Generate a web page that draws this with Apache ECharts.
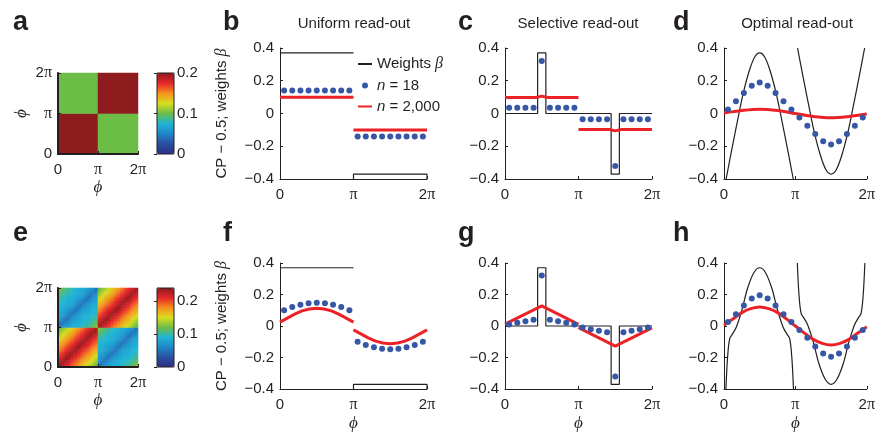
<!DOCTYPE html>
<html>
<head>
<meta charset="utf-8">
<script src="https://cdn.jsdelivr.net/npm/echarts@6/dist/echarts.min.js"></script>
<style>
  html, body { margin: 0; background: #fff; }
  #chart { width: 878px; height: 433px; }
</style>
</head>
<body>
<div id="chart"></div>
<script>
const SANS = '"Liberation Sans", Arial, Helvetica, sans-serif'
const SERIF = '"Liberation Serif", "Times New Roman", serif'
const INK = '#231f20'
const BLUE = '#3656a6'
const RED = '#ec2227'

// tick labels
const piTickLabels = ['0', 'π', '2π']
const yTickLabels = ['−0.4', '−0.2', '0', '0.2', '0.4']
const cbTickLabels = ['0', '0.1', '0.2']

// jet-like palette of the colour bars
const jetColors = ['#2b2f83', '#2a4fa2', '#1f86c8', '#1fb5d6', '#6bbd45', '#d8de1f', '#f6911e', '#e6262b', '#8e1b1e']

// heat map a: 2 x 2 blocks, rows from phi = 0 upwards
const heatA = [
  [0.2, 0.1],
  [0.1, 0.2]
]
// heat map e: value against distance from the diagonal (36 bins, 18 per half)
const sameHalfProfile = [0.235, 0.228, 0.221, 0.214, 0.207, 0.2, 0.193, 0.186, 0.179, 0.172, 0.166, 0.159, 0.152, 0.145, 0.138, 0.131, 0.124, 0.117]
const otherHalfProfile = [0.05, 0.058, 0.065, 0.071, 0.076, 0.08, 0.083, 0.086, 0.088, 0.09, 0.093, 0.096, 0.1, 0.104, 0.109, 0.115, 0.122, 0.13]

// phi positions of the n = 18 neurons (units of pi)
const dotPhi = [0.056, 0.167, 0.278, 0.389, 0.5, 0.611, 0.722, 0.833, 0.944, 1.056, 1.167, 1.278, 1.389, 1.5, 1.611, 1.722, 1.833, 1.944]

const dotsB = [0.14, 0.14, 0.14, 0.14, 0.14, 0.14, 0.14, 0.14, 0.14, -0.14, -0.14, -0.14, -0.14, -0.14, -0.14, -0.14, -0.14, -0.14]
const dotsC = [0.035, 0.035, 0.035, 0.035, 0.32, 0.035, 0.035, 0.035, 0.035, -0.035, -0.035, -0.035, -0.035, -0.32, -0.035, -0.035, -0.035, -0.035]
const dotsD = [0.025, 0.075, 0.125, 0.17, 0.19, 0.17, 0.125, 0.075, 0.025, -0.025, -0.075, -0.125, -0.17, -0.19, -0.17, -0.125, -0.075, -0.025]
const dotsF = [0.1, 0.12, 0.135, 0.145, 0.148, 0.145, 0.135, 0.12, 0.1, -0.1, -0.12, -0.135, -0.145, -0.148, -0.145, -0.135, -0.12, -0.1]
const dotsG = [0.01, 0.02, 0.03, 0.04, 0.32, 0.04, 0.03, 0.02, 0.01, -0.01, -0.02, -0.03, -0.04, -0.32, -0.04, -0.03, -0.02, -0.01]
const dotsH = [0.025, 0.075, 0.13, 0.175, 0.195, 0.175, 0.13, 0.075, 0.025, -0.025, -0.075, -0.13, -0.175, -0.195, -0.175, -0.13, -0.075, -0.025]

// weights (black), [phi / pi, value]
const weightsUniform = [
  [[0, 0.37], [1, 0.37]],
  [[1, -0.4], [1, -0.37], [2, -0.37], [2, -0.4]]
]
const weightsSelective = [
  [[0, 0], [0.444, 0], [0.444, 0.37], [0.556, 0.37], [0.556, 0], [1.444, 0], [1.444, -0.37], [1.556, -0.37], [1.556, 0], [2, 0]]
]
const weightsOptD = [
  [[0.03, -0.4], [0.1, -0.24], [0.2, -0.02], [0.27, 0.125], [0.35, 0.255], [0.43, 0.345], [0.5, 0.37], [0.57, 0.345], [0.65, 0.255], [0.73, 0.125], [0.8, -0.02], [0.9, -0.24], [0.97, -0.4]],
  [[1.03, 0.4], [1.1, 0.24], [1.2, 0.02], [1.27, -0.125], [1.35, -0.255], [1.43, -0.345], [1.5, -0.37], [1.57, -0.345], [1.65, -0.255], [1.73, -0.125], [1.8, 0.02], [1.9, 0.24], [1.97, 0.4]]
]
const weightsOptH = [
  [[0.027, -0.4], [0.05, -0.2], [0.08, -0.08], [0.12, -0.05], [0.17, -0.01], [0.25, 0.1], [0.33, 0.24], [0.42, 0.34], [0.5, 0.37], [0.58, 0.34], [0.67, 0.24], [0.75, 0.1], [0.83, -0.01], [0.88, -0.05], [0.92, -0.08], [0.95, -0.2], [0.973, -0.4]],
  [[1.027, 0.4], [1.05, 0.2], [1.08, 0.08], [1.12, 0.05], [1.17, 0.01], [1.25, -0.1], [1.33, -0.24], [1.42, -0.34], [1.5, -0.37], [1.58, -0.34], [1.67, -0.24], [1.75, -0.1], [1.83, 0.01], [1.88, 0.05], [1.92, 0.08], [1.95, 0.2], [1.973, 0.4]]
]

// n = 2,000 (red)
const redB = [
  [[0, 0.1], [1, 0.1]],
  [[1, -0.1], [2, -0.1]]
]
const redC = [
  [[0, 0.098], [0.42, 0.098], [0.5, 0.106], [0.58, 0.098], [1, 0.098]],
  [[1, -0.098], [1.42, -0.098], [1.5, -0.106], [1.58, -0.098], [2, -0.098]]
]
const redD = [
  [[0, 0.003], [0.25, 0.018], [0.5, 0.026], [0.75, 0.018], [1, 0], [1.25, -0.018], [1.5, -0.026], [1.75, -0.018], [2, -0.003]]
]
const redF = [
  [[0, 0.025], [0.1, 0.05], [0.2, 0.075], [0.3, 0.096], [0.4, 0.108], [0.5, 0.112], [0.6, 0.108], [0.7, 0.096], [0.8, 0.075], [0.9, 0.05], [1, 0.025]],
  [[1, -0.025], [1.1, -0.05], [1.2, -0.075], [1.3, -0.096], [1.4, -0.108], [1.5, -0.112], [1.6, -0.108], [1.7, -0.096], [1.8, -0.075], [1.9, -0.05], [2, -0.025]]
]
const redG = [
  [[0, 0.012], [0.5, 0.128], [1, 0.01]],
  [[1, -0.01], [1.5, -0.128], [2, -0.012]]
]
const redH = [
  [[0, 0.005], [0.125, 0.045], [0.25, 0.085], [0.375, 0.11], [0.5, 0.12], [0.625, 0.11], [0.75, 0.085], [0.875, 0.045], [1, 0], [1.125, -0.045], [1.25, -0.085], [1.375, -0.11], [1.5, -0.12], [1.625, -0.11], [1.75, -0.085], [1.875, -0.045], [2, -0.005]]
]

const chart = echarts.init(document.getElementById('chart'), null, { renderer: 'canvas' })

const grid = []
const xAxis = []
const yAxis = []
const series = []
const visualMap = []

const labelFont = { fontSize: 15, fontFamily: SANS, color: INK }
const piRich = { p: { fontFamily: SERIF, fontSize: 16, color: INK } }
const phiName = { fontFamily: SERIF, fontStyle: 'italic', fontSize: 17, color: INK }

function piLabel(v) {
  return piTickLabels[Math.round(v)].replace('π', '{p|π}')
}

function phiAxis(g, opts) {
  return Object.assign({
    type: 'value', gridIndex: g, min: 0, max: 2, interval: 1, z: 5,
    axisLine: { show: true, onZero: false, lineStyle: { color: INK, width: 1 } },
    axisTick: { show: true, inside: true, length: 3, lineStyle: { color: INK } },
    splitLine: { show: false },
    axisLabel: Object.assign({ margin: 8, formatter: piLabel, rich: piRich }, labelFont),
    nameLocation: 'middle',
    nameTextStyle: phiName
  }, opts)
}

// heat map with its colour bar
function addHeat(rect, cbRect, cells, n, vmax) {
  const g = grid.length
  grid.push(Object.assign({ containLabel: false }, rect))
  const cats = Array.from({ length: n }, (_, i) => i)
  const xc = xAxis.length
  xAxis.push({ type: 'category', gridIndex: g, data: cats, show: false, position: 'top' })
  xAxis.push(phiAxis(g, { position: 'bottom', name: 'ϕ', nameGap: 24, axisLine: { show: true, onZero: false, lineStyle: { color: INK, width: 2 } } }))
  const yc = yAxis.length
  yAxis.push({ type: 'category', gridIndex: g, data: cats, show: false, position: 'right' })
  yAxis.push(phiAxis(g, { position: 'left', name: 'ϕ', nameGap: 28, nameRotate: 90, axisLabel: Object.assign({ margin: 6, formatter: piLabel, rich: piRich }, labelFont), axisLine: { show: true, onZero: false, lineStyle: { color: INK, width: 2 } } }))
  const si = series.length
  series.push({ type: 'heatmap', xAxisIndex: xc, yAxisIndex: yc, data: cells, itemStyle: { borderWidth: 0 }, emphasis: { disabled: true } })

  // colour bar frame and its scale
  const cg = grid.length
  grid.push(Object.assign({ show: true, borderColor: INK, borderWidth: 1, backgroundColor: 'transparent', z: 5 }, cbRect))
  xAxis.push({ type: 'value', gridIndex: cg, min: 0, max: 1, show: false })
  yAxis.push({
    type: 'value', gridIndex: cg, position: 'right', min: 0, max: vmax, interval: 0.1, z: 6,
    axisLine: { show: false },
    axisTick: { show: true, inside: true, length: 3, lineStyle: { color: INK } },
    splitLine: { show: false },
    axisLabel: Object.assign({ margin: 3, showMaxLabel: vmax === 0.2, formatter: v => cbTickLabels[Math.round(v * 10)] || '' }, labelFont)
  })
  visualMap.push({
    type: 'continuous', seriesIndex: si, min: 0, max: vmax, calculable: false, hoverLink: false,
    inRange: { color: jetColors }, padding: 0,
    left: cbRect.left, top: cbRect.top, itemWidth: cbRect.width, itemHeight: cbRect.height
  })
}

const cellsA = []
heatA.forEach((row, j) => row.forEach((v, i) => cellsA.push([i, j, v])))
const cellsE = []
for (let i = 0; i < 36; i++) {
  for (let j = 0; j < 36; j++) {
    const same = (i < 18) === (j < 18)
    const d = Math.abs(i - j)
    cellsE.push([i, j, same ? sameHalfProfile[d] : otherHalfProfile[Math.abs(d - 18)]])
  }
}
addHeat({ left: 58, top: 73, width: 80, height: 81 }, { left: 157, top: 73, width: 17, height: 81 }, cellsA, 2, 0.2)
addHeat({ left: 58, top: 288, width: 80, height: 79 }, { left: 157, top: 288, width: 17, height: 79 }, cellsE, 36, 0.24)

// line panels
function addPanel(rect, opts) {
  const g = grid.length
  grid.push(Object.assign({ containLabel: false }, rect))
  const xi = xAxis.length
  xAxis.push(phiAxis(g, { name: opts.phiName ? 'ϕ' : '', nameGap: 26 }))
  const yi = yAxis.length
  yAxis.push({
    type: 'value', gridIndex: g, min: -0.4, max: 0.4, interval: 0.2,
    axisLine: { show: true, onZero: false, lineStyle: { color: INK, width: 1 } },
    axisTick: { show: true, inside: true, length: 3, lineStyle: { color: INK } },
    splitLine: { show: false },
    axisLabel: Object.assign({ margin: 6, formatter: v => yTickLabels[Math.round((v + 0.4) / 0.2)] }, labelFont),
    name: opts.yName ? 'CP − 0.5; weights {b|β}' : '',
    nameLocation: 'middle', nameGap: 50, nameRotate: 90,
    nameTextStyle: Object.assign({ rich: { b: { fontFamily: SERIF, fontStyle: 'italic', fontSize: 16, color: INK } } }, labelFont)
  })
  opts.black.forEach(seg => series.push({
    type: 'line', name: 'Weights β', xAxisIndex: xi, yAxisIndex: yi, data: seg, symbol: 'none',
    smooth: opts.smooth ? 0.35 : false, lineStyle: { color: INK, width: 1.2 }, itemStyle: { color: INK }, z: 2
  }))
  opts.red.forEach(seg => series.push({
    type: 'line', name: 'n = 2,000', xAxisIndex: xi, yAxisIndex: yi, data: seg, symbol: 'none',
    smooth: opts.smooth ? 0.35 : false, lineStyle: { color: RED, width: 3 }, itemStyle: { color: RED }, z: 3
  }))
  series.push({
    type: 'scatter', name: 'n = 18', xAxisIndex: xi, yAxisIndex: yi,
    data: dotPhi.map((x, k) => [x, opts.dots[k]]), symbolSize: 6,
    itemStyle: { color: BLUE, opacity: 1 }, z: 4
  })
}

addPanel({ left: 280, top: 48, width: 147, height: 131 }, { yName: true, black: weightsUniform, red: redB, dots: dotsB })
addPanel({ left: 505, top: 48, width: 147, height: 131 }, { black: weightsSelective, red: redC, dots: dotsC })
addPanel({ left: 724, top: 48, width: 147, height: 131 }, { black: weightsOptD, red: redD, dots: dotsD, smooth: true })
addPanel({ left: 280, top: 263, width: 147, height: 130 }, { yName: true, phiName: true, black: weightsUniform, red: redF, dots: dotsF })
addPanel({ left: 505, top: 263, width: 147, height: 130 }, { phiName: true, black: weightsSelective, red: redG, dots: dotsG })
addPanel({ left: 724, top: 263, width: 147, height: 130 }, { phiName: true, black: weightsOptH, red: redH, dots: dotsH, smooth: true })

const letterStyle = { fontSize: 27, fontWeight: 'bold', fontFamily: SANS, color: INK }
const headStyle = { fontSize: 15, fontWeight: 'normal', fontFamily: SANS, color: INK }
const title = [
  ['a', 13, 9], ['b', 223, 9], ['c', 458, 9], ['d', 673, 9],
  ['e', 13, 220], ['f', 223, 220], ['g', 458, 220], ['h', 673, 220]
].map(([t, l, tp]) => ({ text: t, left: l, top: tp, padding: 0, textStyle: letterStyle }))
  .concat([
    ['Uniform read-out', 354], ['Selective read-out', 578], ['Optimal read-out', 797]
  ].map(([t, l]) => ({ text: t, left: l, top: 16, padding: 0, textAlign: 'center', textStyle: headStyle })))

chart.setOption({
  animation: false,
  backgroundColor: '#fff',
  title,
  grid,
  xAxis,
  yAxis,
  visualMap,
  legend: {
    orient: 'vertical', left: 358, top: 56, padding: 0, itemGap: 6,
    itemWidth: 14, itemHeight: 6, selectedMode: false,
    data: [
      { name: 'Weights β', icon: 'path://M0,0L14,0L14,2L0,2Z' },
      { name: 'n = 18', icon: 'circle' },
      { name: 'n = 2,000', icon: 'path://M0,0L14,0L14,2L0,2Z' }
    ],
    formatter: name => name.replace('β', '{b|β}').replace(/^n/, '{i|n}'),
    textStyle: Object.assign({
      rich: {
        b: { fontFamily: SERIF, fontStyle: 'italic', fontSize: 16, color: INK },
        i: { fontFamily: SANS, fontStyle: 'italic', fontSize: 15, color: INK }
      }
    }, labelFont)
  },
  series
})
</script>
</body>
</html>
